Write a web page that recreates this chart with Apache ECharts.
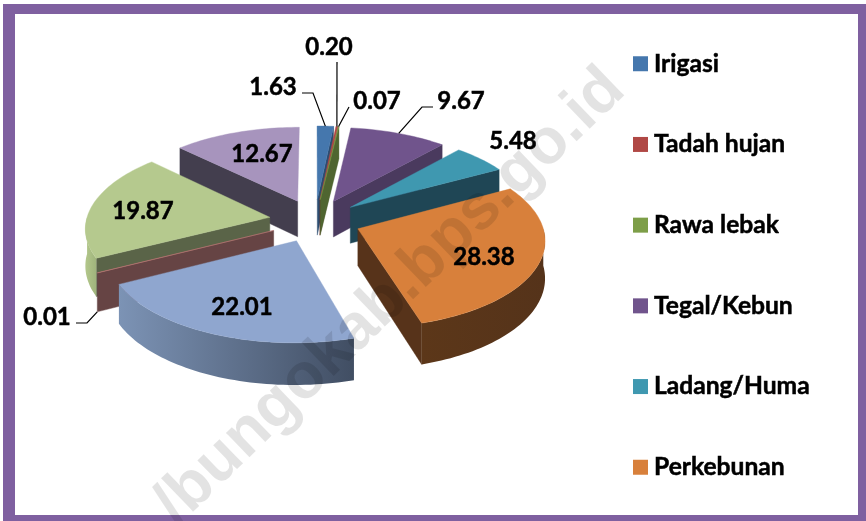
<!DOCTYPE html>
<html><head><meta charset="utf-8">
<style>html,body{margin:0;padding:0;background:#fff}#c{width:866px;height:521px}</style>
<script src="https://cdn.jsdelivr.net/npm/echarts@6/dist/echarts.min.js"></script>
</head><body><div id="c"></div>
<script>
// ---- data (order = clockwise from 12 o'clock)
const categories = ['Irigasi','Tadah hujan','Rawa lebak','Tegal/Kebun','Ladang/Huma','Perkebunan','Kategori 7','Kategori 8','Kategori 9','Kategori 10'];
const values = [1.63,0.20,0.07,9.67,5.48,28.38,22.01,0.01,19.87,12.67];
const valueLabels = ['1.63','0.20','0.07','9.67','5.48','28.38','22.01','0.01','19.87','12.67'];
const legendNames = ['Irigasi','Tadah hujan','Rawa lebak','Tegal/Kebun','Ladang/Huma','Perkebunan'];
// ---- styles
const topColors = ['#4577ad','#b04845','#7d9e48','#70548c','#3f98b0','#d8803b','#8fa6cf','#c9807e','#b5c98e','#a794bd'];
const wallColors = ['#2c4c70','#6e2d2b','#4f6530','#4a3a5e','#1f4655','#57331a','#55657f','#664444','#5a6448','#433e4e'];
const rimGradients = {6:['#7c93b5','#414e63'],8:['#b3c78b','#9fb47c'],5:['#5c3719','#55331a']};
// ---- layout: label centres and leader elbows
const labelAt = [[273,87],[329,47],[377,101],[461,101],[513,141],[484,257],[242,307],[47,317],[143,211],[262,154]];
const leaderPts = {0:[[302,93],[313,93]],1:[[337,62]],2:[[349,107]],3:[[433,107],[422,107]],7:[[76,323],[87,323]]};
const drawOrder = [9,0,1,2,3,4,8,7,5,6];
const total = values.reduce((a,b)=>a+b,0);
const cx=315, cy=220.5, rx=183.5, ry=86, k=0.11, explode=0.25, depth=36.5;
const rad=d=>d*Math.PI/180;
function proj(X,Y,down){const s=1/(1-k*Y);return [cx+rx*X*s, cy+ry*Y*s+(down?depth*s:0)];}
const spans=[];let acc=0;
values.forEach(v=>{const a=acc/total*360;acc+=v;spans.push([a,acc/total*360]);});
function sliceGeom(i){
  const [a,b]=spans[i],m=(a+b)/2;
  const ox=explode*Math.sin(rad(m)),oy=-explode*Math.cos(rad(m));
  const rim=t=>[ox+Math.sin(rad(t)),oy-Math.cos(rad(t))];
  return {a,b,m,ox,oy,rim};
}
function arcPts(g,from,to,down){const n=Math.max(2,Math.ceil((to-from)/1.5));const p=[];
  for(let j=0;j<=n;j++){const r=g.rim(from+(to-from)*j/n);p.push(proj(r[0],r[1],down));}return p;}
function renderSlice(params,api){
  const i=api.value(0);const g=sliceGeom(i);const kids=[];
  const apexT=proj(g.ox,g.oy,false),apexB=proj(g.ox,g.oy,true);
  const side=t=>{const r=g.rim(t);return [apexT,proj(r[0],r[1],false),proj(r[0],r[1],true),apexB];};
  const poly=(points,fill,extra)=>kids.push({type:'polygon',shape:{points},style:Object.assign({fill,stroke:fill,lineWidth:0.4},extra||{})});
  if(Math.sin(rad(g.a))<-1e-6) poly(side(g.a),wallColors[i]);
  if(Math.sin(rad(g.b))>1e-6) poly(side(g.b),wallColors[i]);
  const f=Math.max(g.a,90),t=Math.min(g.b,270);
  if(t>f){
    const tp=arcPts(g,f,t,false),bt=arcPts(g,f,t,true).reverse();
    let fill=wallColors[i];
    if(rimGradients[i]){const c=rimGradients[i];
      const xs=tp.map(p=>p[0]),l=Math.min(...xs),h=Math.max(...xs);
      fill=new echarts.graphic.LinearGradient(l,0,h,0,[{offset:0,color:c[0]},{offset:1,color:c[1]}],true);}
    kids.push({type:'polygon',shape:{points:tp.concat(bt)},style:{fill}});
  }
  poly([apexT].concat(arcPts(g,g.a,g.b,false)),topColors[i]);
  return {type:'group',children:kids};
}
function renderLabels(params,api){
  const kids=[];
  valueLabels.forEach((txt,i)=>{
    const g=sliceGeom(i);
    if(leaderPts[i]){
      const r=g.rim(g.m);const start=proj(r[0],r[1],i===7);
      const pts=[start].concat(leaderPts[i].slice().reverse());
      kids.push({type:'polyline',shape:{points:pts},style:{fill:'none',stroke:'#000',lineWidth:1.2}});
    }
    kids.push({type:'text',style:{text:txt,x:labelAt[i][0],y:labelAt[i][1],align:'center',verticalAlign:'middle',font:'bold 24px Lato',fill:'#000',stroke:'#000',lineWidth:0.5}});
  });
  return {type:'group',children:kids};
}
const series=drawOrder.map((i,z)=>({type:'custom',name:categories[i],coordinateSystem:'none',renderItem:renderSlice,data:[[i,values[i]]],
  itemStyle:{color:topColors[i]},z:2+z*0.01,zlevel:0,silent:true,animation:false}));
series.push({type:'custom',name:'labels',coordinateSystem:'none',renderItem:renderLabels,data:[[0]],z:5,silent:true,animation:false});
const chart=echarts.init(document.getElementById('c'),null,{renderer:'canvas'});
chart.setOption({
  animation:false,backgroundColor:'#fff',
  legend:{data:legendNames,orient:'vertical',left:628,top:46,itemWidth:15,itemHeight:15,itemGap:55.2,icon:'rect',selectedMode:false,
    textStyle:{fontFamily:'Lato',fontWeight:'bold',fontSize:24.6,lineHeight:24,color:'#000',textBorderColor:'#000',textBorderWidth:0.5,padding:[0,0,0,1]}},
  graphic:[
    {type:'rect',z:1,silent:true,shape:{x:3,y:4,width:863,height:10},style:{fill:'#7f60a0'}},
    {type:'rect',z:1,silent:true,shape:{x:3,y:4,width:12,height:517},style:{fill:'#7f60a0'}},
    {type:'rect',z:1,silent:true,shape:{x:858,y:4,width:8,height:517},style:{fill:'#7f60a0'}},
    {type:'rect',z:1,silent:true,shape:{x:3,y:515,width:863,height:6},style:{fill:'#7f60a0'}},
    {type:'text',z:20,silent:true,x:390,y:297,rotation:rad(44),style:{text:'/bungokab.bps.go.id',align:'center',verticalAlign:'middle',font:'bold 64px "Liberation Sans"',fill:'rgba(0,0,0,0.11)'}}
  ],
  series
});
</script></body></html>
